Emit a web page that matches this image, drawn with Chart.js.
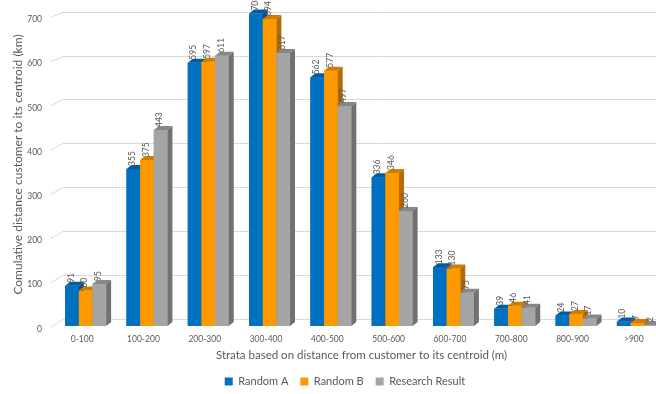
<!DOCTYPE html>
<html>
<head>
<meta charset="utf-8">
<script src="https://cdn.jsdelivr.net/npm/chart.js@4.4.1/dist/chart.umd.min.js"></script>
<style>
  html, body { margin: 0; padding: 0; background: #ffffff; overflow: hidden; }
  #wrap { width: 690px; height: 394px; }
</style>
</head>
<body>
<div id="wrap"><canvas id="chart" width="690" height="394"></canvas></div>
<script>
// Strata of customer-to-centroid distance (m)
const categories = ['0-100', '100-200', '200-300', '300-400', '400-500',
                    '500-600', '600-700', '700-800', '800-900', '>900'];

// Cumulative distance (km) per stratum
const randomA  = [91, 355, 595, 706, 562, 336, 133, 39, 24, 10];
const randomB  = [80, 375, 597, 694, 577, 346, 130, 46, 27, 7];
const research = [95, 443, 611, 617, 497, 260, 75, 41, 17, 2];

const seriesNames = ['Random A', 'Random B', 'Research Result'];
const yTickValues = [0, 100, 200, 300, 400, 500, 600, 700];

const TEXT = '#595959';
const GRID = '#d9d9d9';
const DEPTH_X = 5;   // pseudo-3D column depth
const DEPTH_Y = 4;

Chart.defaults.font.family = 'Lato, "Liberation Sans", sans-serif';

// Back-wall gridlines with the short floor diagonal on the left
const wallGrid = {
  id: 'wallGrid',
  beforeDatasetsDraw(chart) {
    const { ctx, chartArea, scales } = chart;
    const y = scales.y;
    ctx.save();
    ctx.strokeStyle = GRID;
    ctx.lineWidth = 1;
    yTickValues.forEach(v => {
      const py = y.getPixelForValue(v);
      const back = Math.round(py - 7 + v * 0.0034) + 0.5;
      ctx.beginPath();
      ctx.moveTo(chartArea.left - 4, py + 1);
      ctx.lineTo(chartArea.left + 8, back);
      ctx.lineTo(chart.width, back);
      ctx.stroke();
    });
    ctx.restore();
  }
};

// Columns painted left to right within each group so that a column's
// front hides the side face of its left neighbour; then value labels.
const columns3d = {
  id: 'columns3d',
  afterDatasetsDraw(chart) {
    const ctx = chart.ctx;
    const sets = chart.data.datasets;
    const metas = sets.map((_, i) => chart.getDatasetMeta(i));
    ctx.save();
    categories.forEach((_, j) => {
      sets.forEach((ds, i) => {
        const bar = metas[i].data[j];
        const { x, y, base, width } = bar.getProps(['x', 'y', 'base', 'width'], true);
        const l = x - width / 2, r = x + width / 2;
        ctx.fillStyle = ds.backgroundColor;
        ctx.fillRect(l, y, width, base - y);
        ctx.fillStyle = ds.topColor;
        ctx.beginPath();
        ctx.moveTo(l, y);
        ctx.lineTo(r, y);
        ctx.lineTo(r + DEPTH_X, y - DEPTH_Y);
        ctx.lineTo(l + DEPTH_X, y - DEPTH_Y);
        ctx.closePath();
        ctx.fill();
        ctx.fillStyle = ds.sideColor;
        ctx.beginPath();
        ctx.moveTo(r, y);
        ctx.lineTo(r + DEPTH_X, y - DEPTH_Y);
        ctx.lineTo(r + DEPTH_X, base - DEPTH_Y);
        ctx.lineTo(r, base);
        ctx.closePath();
        ctx.fill();
      });
    });

    ctx.fillStyle = TEXT;
    ctx.font = '8.5px Lato, "Liberation Sans", sans-serif';
    ctx.textAlign = 'left';
    ctx.textBaseline = 'middle';
    sets.forEach((ds, i) => {
      metas[i].data.forEach((bar, j) => {
        const { x, y } = bar.getProps(['x', 'y'], true);
        ctx.save();
        ctx.translate(x - 1, y - 3);
        ctx.rotate(-Math.PI / 2);
        ctx.fillText(String(ds.data[j]), 0, 0);
        ctx.restore();
      });
    });
    ctx.restore();
  }
};

const TARGET_BOTTOM = 326;

new Chart(document.getElementById('chart'), {
  type: 'bar',
  data: {
    labels: categories,
    datasets: [
      { label: seriesNames[0], data: randomA,  backgroundColor: '#0070c0', topColor: '#005c9f', sideColor: '#004f88' },
      { label: seriesNames[1], data: randomB,  backgroundColor: '#ff9900', topColor: '#cf7c00', sideColor: '#b56b00' },
      { label: seriesNames[2], data: research, backgroundColor: '#a5a5a5', topColor: '#878787', sideColor: '#717171' }
    ]
  },
  options: {
    responsive: false,
    animation: false,
    events: [],
    layout: { padding: { top: 3, right: 22, bottom: 0, left: 22 } },
    datasets: { bar: { barPercentage: 1, categoryPercentage: 0.668, borderWidth: 0 } },
    plugins: {
      tooltip: { enabled: false },
      legend: {
        position: 'bottom',
        maxHeight: 30,
        labels: { boxWidth: 8, boxHeight: 8, padding: 12, color: TEXT, font: { size: 11 } }
      }
    },
    scales: {
      x: {
        border: { display: false },
        grid: { display: false, drawTicks: false },
        ticks: { padding: 8, labelOffset: -3.5, color: TEXT, font: { size: 8.5 }, maxRotation: 0, autoSkip: false },
        title: {
          display: true,
          text: 'Strata based on distance from customer to its centroid (m)',
          color: TEXT, font: { size: 11.5 }, padding: { top: 4, bottom: 2 }
        },
        afterFit(s) {
          const legendH = s.chart.legend ? s.chart.legend.height : 30;
          s.height = s.chart.height - TARGET_BOTTOM - legendH;
          s.paddingLeft = 0;
          s.paddingRight = 0;
        }
      },
      y: {
        min: 0,
        max: 730,
        border: { display: false },
        grid: { display: false, drawTicks: false },
        ticks: { stepSize: 100, includeBounds: false, padding: 13, labelOffset: 3, color: TEXT, font: { size: 8.5 } },
        title: {
          display: true,
          text: 'Comulative distance customer to its centroid (km)',
          color: TEXT, font: { size: 12 }, padding: { top: -11, bottom: 0 }
        },
        afterFit(s) {
          s.width = 33;
          s.paddingTop = 0;
          s.paddingBottom = 0;
        }
      }
    }
  },
  plugins: [wallGrid, columns3d]
});
</script>
</body>
</html>
